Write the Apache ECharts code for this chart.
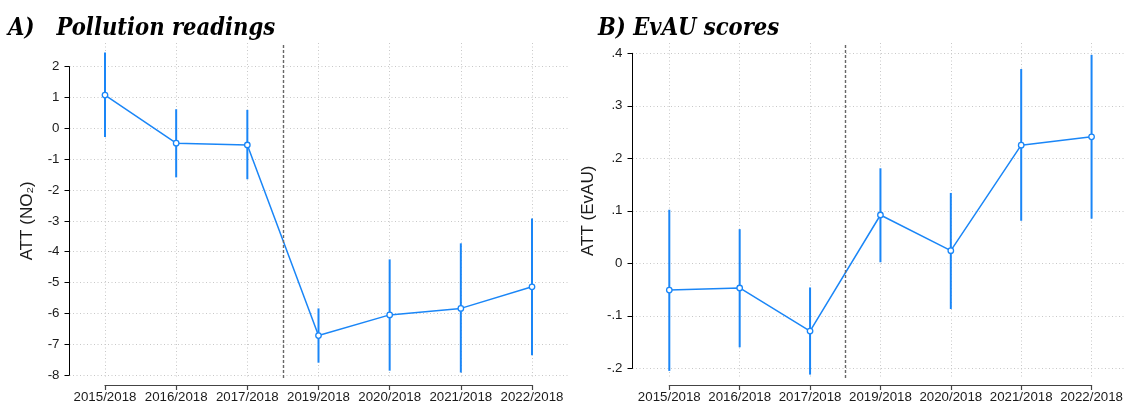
<!DOCTYPE html>
<html>
<head>
<meta charset="utf-8">
<script src="https://cdn.jsdelivr.net/npm/echarts@6/dist/echarts.min.js"></script>
<style>
html,body{margin:0;padding:0;background:#fff;}
#chart{width:1126px;height:408px;}
</style>
</head>
<body>
<div id="chart"></div>
<script>
// ---------- data ----------
const categories = ['2015/2018','2016/2018','2017/2018','2019/2018','2020/2018','2021/2018','2022/2018'];
const no2Est = [1.08, -0.48, -0.54, -6.72, -6.05, -5.84, -5.14];
const no2Lo  = [-0.28, -1.59, -1.65, -7.60, -7.86, -7.92, -7.36];
const no2Hi  = [2.46, 0.62, 0.60, -5.84, -4.25, -3.73, -2.92];
const evauEst = [-0.051, -0.047, -0.129, 0.092, 0.024, 0.225, 0.241];
const evauLo  = [-0.205, -0.160, -0.212, 0.002, -0.087, 0.081, 0.085];
const evauHi  = [0.102, 0.065, -0.046, 0.181, 0.134, 0.370, 0.397];
const treatmentBreak = 2.5;   // between 2017/2018 and 2019/2018
const titleA = 'A)   Pollution readings';
const titleB = 'B) EvAU scores';
const yNameA = 'ATT (NO\u2082)';
const yNameB = 'ATT (EvAU)';

// ---------- style / layout ----------
const BLUE = '#1a86f7';
const GRIDC = '#c8c8c8';
const TXT = '#1a1a1a';
const FONT = "'Liberation Sans', Arial, sans-serif";

function panel(idx, cfg) {
  const g0 = idx * 2, g1 = idx * 2 + 1;
  const pxPerUnit = (cfg.tickBot - cfg.tickTop) / (cfg.ymax - cfg.ymin);
  const extMax = cfg.ymax + (cfg.tickTop - cfg.dataTop) / pxPerUnit;
  const extMin = cfg.ymin - (cfg.dataBot - cfg.tickBot) / pxPerUnit;
  const grids = [
    {left: cfg.axisX, top: cfg.tickTop, width: cfg.rightEdge - cfg.axisX, height: cfg.tickBot - cfg.tickTop},
    {left: cfg.catFirst, top: cfg.dataTop, width: cfg.catLast - cfg.catFirst, height: cfg.dataBot - cfg.dataTop}
  ];
  const xAxes = [
    {gridIndex: g0, type: 'value', min: 0, max: 1, show: false},
    {gridIndex: g1, type: 'value', min: 0, max: categories.length - 1, interval: 1,
     position: 'bottom', offset: 7,
     axisLine: {show: true, onZero: false, lineStyle: {color: '#444', width: 1.2}},
     axisTick: {show: true, length: 5, lineStyle: {color: '#444', width: 1.2}},
     axisLabel: {show: true, color: TXT, fontSize: 13.3, fontFamily: FONT, margin: 6,
                 showMinLabel: true, showMaxLabel: true,
                 formatter: v => categories[Math.round(v)] || ''},
     splitLine: {show: true, lineStyle: {color: GRIDC, type: [1, 2.5], width: 1}}}
  ];
  const yAxes = [
    {gridIndex: g0, type: 'value', min: cfg.ymin, max: cfg.ymax, interval: cfg.interval,
     axisLine: {show: true, lineStyle: {color: '#000', width: 1}},
     axisTick: {show: true, length: 5, lineStyle: {color: '#000', width: 1}},
     axisLabel: {color: TXT, fontSize: 13.3, fontFamily: FONT, margin: 10, formatter: cfg.fmt},
     splitLine: {show: true, lineStyle: {color: GRIDC, type: [1, 2.5], width: 1}},
     name: cfg.name, nameLocation: 'middle', nameGap: cfg.nameGap,
     nameTextStyle: {color: TXT, fontSize: 17, fontFamily: FONT}},
    {gridIndex: g1, type: 'value', min: extMin, max: extMax, show: false,
     splitLine: {show: false}}
  ];
  const series = [
    {type: 'custom', xAxisIndex: idx * 2 + 1, yAxisIndex: idx * 2 + 1, z: 3,
     clip: false,
     data: categories.map((c, i) => [i, cfg.lo[i], cfg.hi[i]]),
     encode: {x: 0, y: [1, 2]},
     renderItem: function (params, api) {
       const p1 = api.coord([api.value(0), api.value(1)]);
       const p2 = api.coord([api.value(0), api.value(2)]);
       return {type: 'line', shape: {x1: p1[0], y1: p1[1], x2: p2[0], y2: p2[1]},
               style: {stroke: BLUE, lineWidth: 2}};
     },
     markLine: {silent: true, symbol: 'none', label: {show: false},
                lineStyle: {color: '#666', type: [3, 2], width: 1.4},
                data: [{xAxis: treatmentBreak}]}},
    {type: 'line', xAxisIndex: idx * 2 + 1, yAxisIndex: idx * 2 + 1, z: 4, clip: false,
     data: categories.map((c, i) => [i, cfg.est[i]]),
     symbol: 'circle', symbolSize: 5.5, showSymbol: true,
     lineStyle: {color: BLUE, width: 1.5},
     itemStyle: {color: '#fff', borderColor: BLUE, borderWidth: 1.3},
     emphasis: {disabled: true}, animation: false}
  ];
  return {grids, xAxes, yAxes, series};
}

const stataFmt = v => {
  const r = Math.round(v * 10) / 10;
  if (r === 0) return '0';
  return r.toFixed(1).replace('0.', '.');
};

const A = panel(0, {axisX: 69.5, tickTop: 66.7, tickBot: 375, ymin: -8, ymax: 2, interval: 1,
  catFirst: 105, catLast: 532, rightEdge: 567.5, dataTop: 43, dataBot: 378,
  fmt: v => String(Math.round(v)), name: yNameA, nameGap: 34,
  est: no2Est, lo: no2Lo, hi: no2Hi});
const B = panel(1, {axisX: 632.5, tickTop: 53.3, tickBot: 368.3, ymin: -0.2, ymax: 0.4, interval: 0.1,
  catFirst: 669.3, catLast: 1092.7, rightEdge: 1126, dataTop: 43, dataBot: 378,
  fmt: stataFmt, name: yNameB, nameGap: 36,
  est: evauEst, lo: evauLo, hi: evauHi});

const TITLEFONT = "'DejaVu Serif Condensed', 'Liberation Serif', serif";
const TS = {fontFamily: TITLEFONT, fontStyle: 'italic', fontWeight: 'bold', fontSize: 23.5, color: '#000'};
const option = {
  animation: false,
  backgroundColor: '#fff',
  title: [
    {text: titleA, left: 8, top: 17, padding: 0, textStyle: TS},
    {text: titleB, left: 598, top: 17, padding: 0, textStyle: TS}
  ],
  grid: A.grids.concat(B.grids),
  xAxis: A.xAxes.concat(B.xAxes),
  yAxis: A.yAxes.concat(B.yAxes),
  series: A.series.concat(B.series)
};

const chart = echarts.init(document.getElementById('chart'), null, {renderer: 'canvas'});
chart.setOption(option);
</script>
</body>
</html>
